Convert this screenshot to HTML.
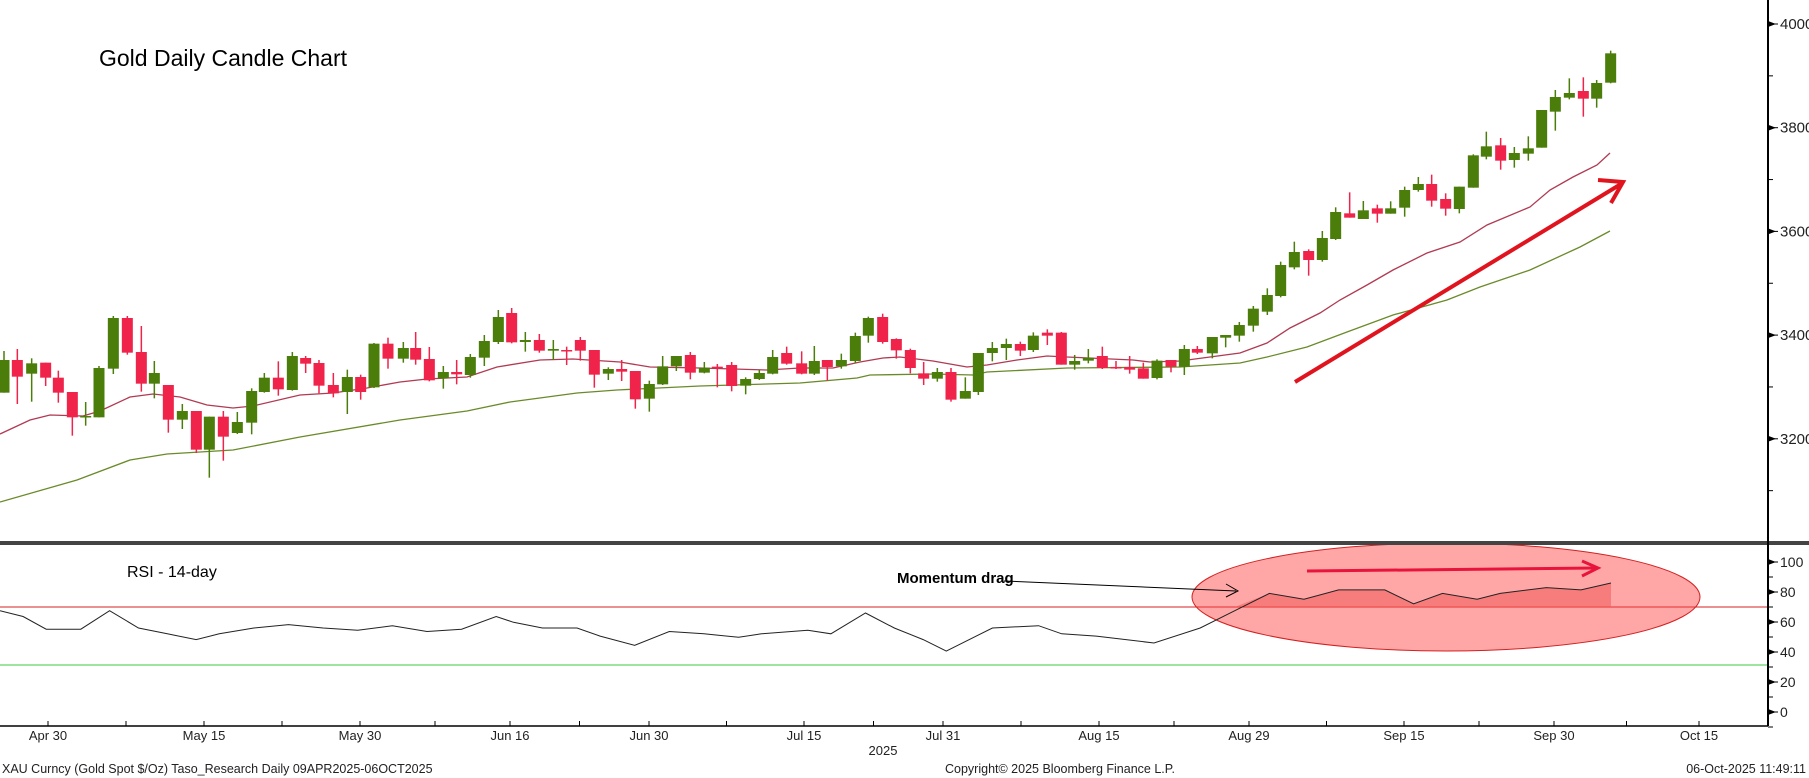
<!DOCTYPE html>
<html><head><meta charset="utf-8"><style>
html,body{margin:0;padding:0;background:#fff;width:1809px;height:778px;overflow:hidden}
svg{display:block;font-family:"Liberation Sans",sans-serif}
</style></head><body>
<svg id="s" width="1809" height="778" viewBox="0 0 1809 778" xmlns="http://www.w3.org/2000/svg">
<rect width="1809" height="778" fill="#fff"/>
<g id="ma"></g>
<g id="c"></g>
<text x="99" y="66" font-size="23" fill="#000">Gold Daily Candle Chart</text>
<!-- trend arrow -->
<line x1="1295" y1="382" x2="1621" y2="184" stroke="#e0141e" stroke-width="4"/>
<polyline points="1598,180 1623,182 1611,203" fill="none" stroke="#e0141e" stroke-width="4"/>
<!-- RSI pane -->
<line x1="0" y1="607" x2="1768" y2="607" stroke="#d42020" stroke-width="1"/>
<line x1="0" y1="665" x2="1768" y2="665" stroke="#3cc83c" stroke-width="1"/>
<ellipse cx="1446" cy="597" rx="254" ry="54" fill="rgba(255,60,60,0.45)" stroke="#d42020" stroke-width="1"/>
<g id="rsi"></g>
<text x="127" y="577" font-size="16" fill="#000">RSI - 14-day</text>
<text x="897" y="583" font-size="15" font-weight="bold" fill="#000">Momentum drag</text>
<line x1="1004" y1="581" x2="1236" y2="591" stroke="#000" stroke-width="1"/>
<polyline points="1226,584 1238,591 1226,597" fill="none" stroke="#000" stroke-width="1"/>
<line x1="1307" y1="571" x2="1596" y2="568" stroke="#e8143c" stroke-width="3"/>
<polyline points="1582,561 1598,568 1582,576" fill="none" stroke="#e8143c" stroke-width="3"/>
<!-- divider -->
<rect x="0" y="541" width="1809" height="4" fill="#444"/>
<!-- axes -->
<line x1="1768" y1="0" x2="1768" y2="726" stroke="#000" stroke-width="2"/>
<line x1="0" y1="726" x2="1768" y2="726" stroke="#000" stroke-width="1.5"/>
<g id="ax" font-size="15" fill="#222"></g>
<text x="883" y="755" font-size="13" text-anchor="middle" fill="#222">2025</text>
<text x="2" y="773" font-size="12.5" fill="#222">XAU Curncy (Gold Spot  $/Oz) Taso_Research Daily 09APR2025-06OCT2025</text>
<text x="945" y="773" font-size="12.5" fill="#222">Copyright© 2025 Bloomberg Finance L.P.</text>
<text x="1806" y="773" font-size="12.5" text-anchor="end" fill="#222">06-Oct-2025 11:49:11</text>
</svg>
<script>
var NS="http://www.w3.org/2000/svg";
function el(p,t,a){var e=document.createElementNS(NS,t);for(var k in a)e.setAttribute(k,a[k]);document.getElementById(p).appendChild(e);return e;}
var segs=[
[0,280,[[12,240,338,213,338,'g'],[52,240,290,207,372,'r'],[95,250,281,235,365,'g'],[137,248,293,248,318,'r'],[175,293,338,272,368,'r'],[217,336,412,336,467,'r'],[257,408,412,366,437,'g'],[297,264,412,258,412,'g'],[340,114,266,108,282,'g'],[382,114,218,108,224,'r'],[424,216,311,138,335,'r'],[463,279,311,243,355,'g'],[505,315,419,315,458,'r'],[547,393,419,372,447,'g'],[589,393,509,393,519,'r'],[628,410,509,410,593,'g'],[670,410,470,393,542,'r'],[712,426,459,396,462,'g'],[755,333,428,325,463,'g'],[793,293,336,279,338,'g'],[835,293,328,244,347,'r'],[877,228,330,216,332,'g'],[917,234,251,228,279,'r'],[957,249,317,240,340,'r'],[1000,315,340,279,352,'r'],[1042,291,336,269,402,'g'],[1082,291,336,284,359,'r'],[1122,191,322,189,324,'g'],[1164,191,236,173,266,'r']]],
[400,280,[[10,204,236,186,248,'g'],[47,204,239,156,254,'r'],[88,237,301,201,304,'r'],[130,276,295,258,326,'g'],[170,276,283,240,313,'r'],[211,231,285,222,293,'g'],[253,183,233,165,258,'g'],[295,111,186,90,192,'g'],[335,99,187,84,190,'r'],[376,180,186,156,215,'g'],[418,180,212,162,218,'r'],[460,207,212,180,240,'g'],[500,210,213,200,255,'r'],[541,180,212,171,242,'r'],[583,210,284,210,323,'r'],[625,267,281,262,300,'g'],[665,267,275,240,303,'r'],[706,273,358,273,386,'r'],[748,312,356,302,395,'g'],[788,259,313,228,315,'g'],[829,228,259,228,273,'g'],[871,225,278,216,298,'r'],[913,263,278,246,280,'g'],[952,260,264,252,322,'r'],[995,255,318,246,334,'r'],[1037,297,317,292,343,'g'],[1078,279,297,270,300,'g'],[1118,231,281,210,283,'g'],[1160,219,251,200,254,'r']]],
[800,270,[[5,280,311,244,313,'r'],[43,273,311,228,315,'g'],[82,270,291,270,332,'r'],[124,270,289,251,296,'g'],[166,198,273,188,280,'g'],[205,144,197,140,218,'g'],[248,141,216,131,221,'r'],[289,207,241,205,266,'r'],[331,240,294,236,310,'r'],[371,310,326,276,345,'r'],[412,306,326,294,335,'g'],[453,306,389,294,395,'r'],[496,363,386,322,386,'g'],[535,249,366,249,375,'g'],[577,234,249,216,274,'g'],[619,222,234,206,270,'g'],[661,222,242,215,258,'r'],[700,197,240,187,246,'g'],[742,188,197,178,225,'r'],[784,188,284,186,284,'r'],[824,273,284,255,299,'g'],[865,263,272,237,280,'g'],[907,258,294,230,297,'r'],[948,291,294,273,297,'r'],[989,291,299,258,311,'r'],[1030,295,326,278,326,'r'],[1071,272,324,268,328,'g'],[1113,270,290,270,307,'r'],[1153,237,290,225,315,'g'],[1192,237,248,228,252,'r']]],
[1180,40,[[97,891,940,891,955,'g'],[137,885,893,885,922,'g'],[178,855,887,846,905,'g'],[220,806,857,798,875,'g'],[262,765,815,745,825,'g'],[302,675,768,665,772,'g'],[343,636,682,605,688,'g'],[386,633,660,628,707,'r'],[427,594,660,573,665,'g'],[467,516,597,502,600,'g'],[509,520,533,457,533,'r'],[550,511,537,483,537,'g'],[592,505,521,494,548,'r'],[632,505,521,484,521,'g'],[674,450,503,440,530,'g'],[715,432,450,411,455,'g'],[755,432,482,404,500,'r'],[797,477,506,460,527,'r'],[838,440,507,440,520,'g'],[880,346,443,343,443,'g'],[919,319,350,275,358,'g'],[962,316,362,294,389,'r'],[1003,339,360,321,383,'g'],[1045,325,341,289,362,'g'],[1085,210,323,210,323,'g'],[1126,171,215,150,272,'g'],[1168,159,173,115,178,'g'],[1210,153,176,112,230,'r'],[1250,129,176,120,203,'g'],[1292,40,128,32,130,'g']]]];
segs.forEach(function(s){var ox=s[0],oy=s[1];s[2].forEach(function(c){
 var x=c[0]/3+ox,bt=c[1]/3+oy,bb=c[2]/3+oy,wt=c[3]/3+oy,wb=c[4]/3+oy;
 var col=c[5]=='g'?'#4b7d0a':'#f0234a';
 el('c','line',{x1:x,x2:x,y1:wt,y2:wb,stroke:col,'stroke-width':1.5});
 el('c','rect',{x:x-5.5,y:bt,width:11,height:Math.max(bb-bt,1.5),fill:col});
});});
var red="0,434 30,420 50,415 83,416 100,411 130,397 153,394 180,397 207,405 233,408 253,406 300,395 333,393 367,388 400,382 427,379 467,377 497,367 540,360 573,359 620,362 650,367 700,368 767,370 800,368 833,368 860,362 883,358 900,357 933,361 967,367 987,365 1017,360 1047,356 1067,357 1133,360 1150,362 1180,361 1240,353 1267,343 1290,328 1320,313 1340,300 1367,285 1393,270 1427,253 1460,242 1487,225 1530,207 1550,190 1573,177 1597,165 1610,153";
var grn="0,502 77,480 130,460 167,454 233,450 300,437 400,420 467,411 510,402 577,393 617,390 700,386 800,383 857,378 870,375 933,374 973,375 987,372 1067,368 1180,367 1240,363 1267,357 1307,347 1347,332 1393,315 1447,300 1480,287 1530,270 1580,247 1610,231";
el('ma','polyline',{points:red,fill:'none',stroke:'#b03a52','stroke-width':1.3});
el('ma','polyline',{points:grn,fill:'none',stroke:'#6a8a2a','stroke-width':1.3});
var rp=[[0,530],[20,535],[40,546],[70,546],[95,530],[120,545],[145,550],[170,555],[190,550],[220,545],[250,542],[280,545],[310,547],[340,543],[370,548],[400,546],[430,535],[445,540],[470,545],[500,545],[520,552],[550,560],[580,548],[610,550],[640,553],[660,550],[700,547],[720,550],[750,532],[775,545],[800,555],[820,565],[830,560],[860,545],[900,543],[920,550],[950,552],[1000,558],[1040,545],[1070,530],[1100,515],[1130,520],[1160,512],[1200,512],[1225,524],[1250,515],[1280,520],[1300,515],[1340,510],[1370,512],[1396,506]];
var pts=rp.map(function(p){return [p[0]*1.154,p[1]*1.1538-0.8];});
// overbought fill
var ob=[];pts.forEach(function(p){if(p[0]>=1225)ob.push(p[0]+','+Math.min(p[1],607));});
if(ob.length){var f=ob[0].split(',')[0],l=ob[ob.length-1].split(',')[0];el('rsi','polygon',{points:f+',607 '+ob.join(' ')+' '+l+',607',fill:'rgba(240,90,90,0.55)'});}
el('rsi','polyline',{points:pts.map(function(p){return p[0].toFixed(1)+','+p[1].toFixed(1)}).join(' '),fill:'none',stroke:'#222','stroke-width':1});
// price axis
[4000,3800,3600,3400,3200].forEach(function(v){var y=24+(4000-v)*0.5185;
 el('ax','polygon',{points:'1768,'+(y-3)+' 1776,'+y+' 1768,'+(y+3),fill:'#000'});
 el('ax','line',{x1:1768,x2:1778,y1:y,y2:y,stroke:'#000','stroke-width':1});
 var t=el('ax','text',{x:1780,y:y+5});t.textContent=v;});
[3900,3700,3500,3300,3100].forEach(function(v){var y=24+(4000-v)*0.5185;el('ax','line',{x1:1768,x2:1773,y1:y,y2:y,stroke:'#000'});});
[100,80,60,40,20,0].forEach(function(v){var y=712-v*1.5;
 el('ax','polygon',{points:'1768,'+(y-3)+' 1776,'+y+' 1768,'+(y+3),fill:'#000'});
 el('ax','line',{x1:1768,x2:1778,y1:y,y2:y,stroke:'#000'});
 var t=el('ax','text',{x:1780,y:y+5,'font-size':14});t.textContent=v;});
[90,70,50,30,10,-10].forEach(function(v){var y=712-v*1.5;el('ax','line',{x1:1768,x2:1773,y1:y,y2:y,stroke:'#000'});});
var dl=[[48,'Apr 30'],[204,'May 15'],[360,'May 30'],[510,'Jun 16'],[649,'Jun 30'],[804,'Jul 15'],[943,'Jul 31'],[1099,'Aug 15'],[1249,'Aug 29'],[1404,'Sep 15'],[1554,'Sep 30'],[1699,'Oct 15']];
dl.forEach(function(d,i){el('ax','line',{x1:d[0],x2:d[0],y1:721,y2:726,stroke:'#000'});
 if(i<dl.length-1){var m=(d[0]+dl[i+1][0])/2;el('ax','line',{x1:m,x2:m,y1:721,y2:726,stroke:'#000'});}
 var t=el('ax','text',{x:d[0],y:740,'font-size':13,'text-anchor':'middle'});t.textContent=d[1];});
</script>
</body></html>
